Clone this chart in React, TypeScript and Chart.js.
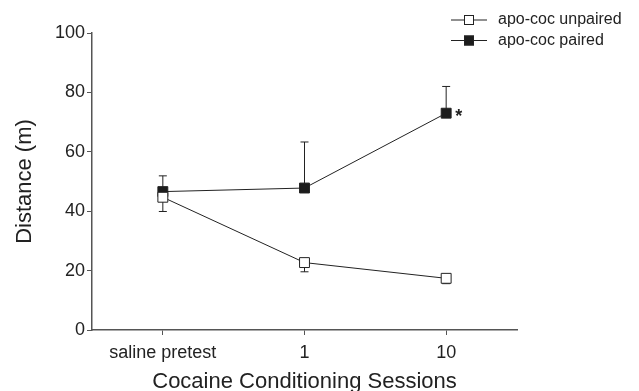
import React, { useEffect, useRef } from 'react';
import { Chart, registerables } from 'chart.js';

Chart.register(...registerables);

const categories = ['saline pretest', '1', '10'];
const seriesLabels = ['apo-coc unpaired', 'apo-coc paired'];
const unpairedMean = [44.7, 22.7, 17.4];
const unpairedSem = [4.8, 3.1, 1.8]; // drawn downward
const pairedMean = [46.6, 47.8, 73.0];
const pairedSem = [5.3, 15.5, 9.0]; // drawn upward
const pairedMarks = ['', '', '*'];
const yMin = 0;
const yMax = 100;
const yStep = 20;

const FONT = "'Liberation Sans', Arial, Helvetica, sans-serif";
const INK = '#222222';
const AXIS = '#555555';

const errorBarPlugin = {
  id: 'errorBars',
  beforeDatasetsDraw(chart: any) {
    const { ctx } = chart;
    const x = chart.scales.x;
    const y = chart.scales.y;
    const sets = [
      { mean: unpairedMean, sem: unpairedSem, dir: -1 },
      { mean: pairedMean, sem: pairedSem, dir: 1 },
    ];
    ctx.save();
    ctx.strokeStyle = INK;
    ctx.lineWidth = 1;
    sets.forEach((s) => {
      s.mean.forEach((m, i) => {
        const px = x.getPixelForValue(i);
        const y0 = y.getPixelForValue(m);
        const y1 = y.getPixelForValue(m + s.dir * s.sem[i]);
        ctx.beginPath();
        ctx.moveTo(px, y0);
        ctx.lineTo(px, y1);
        ctx.moveTo(px - 4, y1);
        ctx.lineTo(px + 4, y1);
        ctx.stroke();
      });
    });
    ctx.restore();
  },
  afterDatasetsDraw(chart: any) {
    const { ctx } = chart;
    const x = chart.scales.x;
    const y = chart.scales.y;
    ctx.save();
    ctx.fillStyle = INK;
    ctx.font = `bold 18px ${FONT}`;
    ctx.textBaseline = 'middle';
    ctx.textAlign = 'left';
    pairedMarks.forEach((t, i) => {
      if (!t) return;
      ctx.fillText(t, x.getPixelForValue(i) + 9, y.getPixelForValue(pairedMean[i]) + 4);
    });
    ctx.restore();
  },
};

const legendPlugin = {
  id: 'customLegend',
  afterDraw(chart: any) {
    const { ctx } = chart;
    ctx.save();
    chart.data.datasets.forEach((ds: any, i: number) => {
      const cy = 20 + i * 20.5;
      ctx.strokeStyle = INK;
      ctx.lineWidth = 1;
      ctx.beginPath();
      ctx.moveTo(451, cy);
      ctx.lineTo(487, cy);
      ctx.stroke();
      ctx.fillStyle = ds.pointBackgroundColor;
      ctx.fillRect(464, cy - 5, 10, 10);
      ctx.strokeRect(464.5, cy - 4.5, 9, 9);
      ctx.fillStyle = INK;
      ctx.font = `16px ${FONT}`;
      ctx.textBaseline = 'middle';
      ctx.textAlign = 'left';
      ctx.fillText(ds.label, 498, cy);
    });
    ctx.restore();
  },
};

export default function App() {
  const ref = useRef<HTMLCanvasElement | null>(null);
  useEffect(() => {
    document.body.style.margin = '0';
    if (!ref.current) return;
    const chart = new Chart(ref.current, {
      type: 'line',
      data: {
        labels: categories,
        datasets: [
          {
            label: seriesLabels[0],
            data: unpairedMean,
            borderColor: INK,
            borderWidth: 1,
            pointStyle: 'rect',
            pointRadius: 7,
            pointBorderWidth: 1,
            pointBackgroundColor: '#ffffff',
            pointBorderColor: INK,
            tension: 0,
          },
          {
            label: seriesLabels[1],
            data: pairedMean,
            borderColor: INK,
            borderWidth: 1,
            pointStyle: 'rect',
            pointRadius: 7,
            pointBorderWidth: 1,
            pointBackgroundColor: '#1c1c1c',
            pointBorderColor: INK,
            tension: 0,
          },
        ],
      },
      options: {
        animation: false,
        responsive: true,
        maintainAspectRatio: false,
        layout: { padding: { top: 33, right: 122, left: 0, bottom: 0 } },
        plugins: { legend: { display: false }, tooltip: { enabled: false } },
        scales: {
          x: {
            type: 'category',
            offset: true,
            grid: {
              display: true,
              drawOnChartArea: false,
              drawTicks: true,
              tickLength: 5,
              offset: false,
              color: AXIS,
            },
            border: { display: true, color: AXIS, width: 1.5 },
            ticks: { color: INK, font: { family: FONT, size: 18 }, padding: 7, maxRotation: 0 },
            title: {
              display: true,
              text: 'Cocaine Conditioning Sessions',
              color: INK,
              font: { family: FONT, size: 22 },
              padding: { top: 0, bottom: -4 },
            },
            afterFit(scale: any) {
              scale.height = 61;
            },
          },
          y: {
            min: yMin,
            max: yMax,
            grid: {
              display: true,
              drawOnChartArea: false,
              drawTicks: true,
              tickLength: 5,
              color: AXIS,
            },
            border: { display: true, color: AXIS, width: 1.5 },
            ticks: { stepSize: yStep, color: INK, font: { family: FONT, size: 18 }, padding: 2 },
            title: {
              display: true,
              text: 'Distance (m)',
              color: INK,
              font: { family: FONT, size: 22 },
              padding: { top: 12, bottom: 0 },
            },
            afterFit(scale: any) {
              scale.width = 92;
            },
          },
        },
      },
      plugins: [errorBarPlugin, legendPlugin],
    });
    return () => chart.destroy();
  }, []);
  return (
    <div style={{ width: 639, height: 391, position: 'relative' }}>
      <canvas ref={ref} />
    </div>
  );
}
